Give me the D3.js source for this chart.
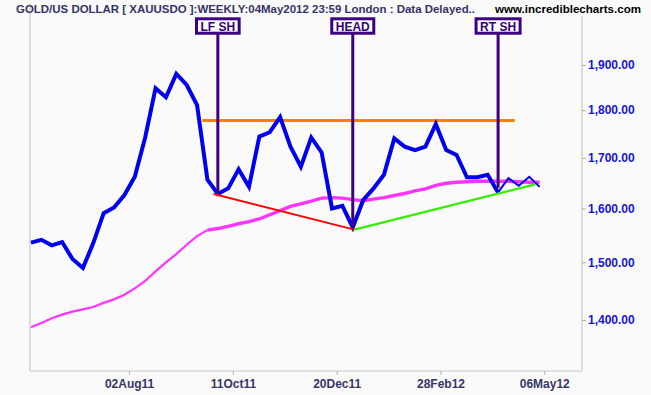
<!DOCTYPE html>
<html>
<head>
<meta charset="utf-8">
<script src="https://cdn.jsdelivr.net/npm/d3@7"></script>
<style>
  html, body { margin: 0; padding: 0; background: #fafafa; }
  svg { display: block; }
</style>
</head>
<body>
<div id="chart"></div>
<script>
// weekly closes, Gold / US Dollar
const closes = [
  1536, 1541, 1531, 1537, 1506, 1490, 1535, 1591, 1602, 1626,
  1662, 1742, 1848, 1828, 1880, 1855, 1811, 1656, 1628, 1639,
  1677, 1642, 1744, 1753, 1785, 1723, 1682, 1742, 1711, 1600,
  1605, 1564, 1616, 1639, 1666, 1740, 1723, 1716, 1723, 1770,
  1716, 1706, 1661, 1661, 1666, 1631, 1659, 1644, 1662, 1642
]
// moving average
const movAvg = [
  1388, 1395, 1403, 1409, 1414, 1418, 1422, 1429, 1435, 1443,
  1454, 1467, 1484, 1500, 1515, 1532, 1548, 1559, 1562, 1566,
  1571, 1575, 1580, 1588, 1596, 1604, 1609, 1614, 1620, 1621,
  1620, 1617, 1615, 1618, 1621, 1625, 1629, 1634, 1638, 1645,
  1649, 1651, 1652, 1653, 1653, 1653, 1653, 1652, 1651, 1651
]
const xTickIdx = [9.45, 19.45, 29.45, 39.45, 49.45]
const xTickLabels = ['02Aug11', '11Oct11', '20Dec11', '28Feb12', '06May12']
const yTicks = [1400, 1500, 1600, 1700, 1800, 1900]

// head & shoulders annotations
const markerLabels = ['LF SH', 'HEAD', 'RT SH']
const markerIdx = [18, 31, 45]
const markerEnd = [1628, 1562, 1640]
const neckline = [[16.5, 1778], [46.6, 1778]]
const leftTrend = [[17.6, 1628], [31.15, 1560]]
const rightTrend = [[31.15, 1560], [48.6, 1647]]

const width = 651, height = 395
const plot = { left: 30, right: 582, top: 4, bottom: 371 }

const svg = d3.select('#chart').append('svg')
  .attr('width', width)
  .attr('height', height)
  .style('background', '#fafafa')

const x = d3.scaleLinear().domain([0, 49]).range([31, 539.6])
const y = d3.scaleLog().domain([1317, 2044]).range([plot.bottom, plot.top])

// frame
const frame = svg.append('g').attr('stroke', '#c8c8c8').attr('stroke-width', 1.2)
frame.append('line').attr('x1', plot.left).attr('x2', plot.left).attr('y1', plot.top).attr('y2', plot.bottom)
frame.append('line').attr('x1', plot.right).attr('x2', plot.right).attr('y1', 16).attr('y2', plot.bottom)
frame.append('line').attr('x1', plot.left).attr('x2', plot.right).attr('y1', plot.bottom).attr('y2', plot.bottom)

// axes
const yAxis = svg.append('g')
  .attr('transform', `translate(${plot.right},0)`)
  .call(d3.axisRight(y).tickValues(yTicks).tickFormat(d3.format(',.2f')).tickSize(4).tickPadding(2))
yAxis.select('.domain').remove()
yAxis.selectAll('line').attr('stroke', '#b0b0b0')
yAxis.selectAll('text')
  .attr('fill', '#1414e0')
  .style('font', 'bold 12px "Liberation Sans", Arial, sans-serif')

const xAxis = svg.append('g')
  .attr('transform', `translate(0,${plot.bottom})`)
  .call(d3.axisBottom(x).tickValues(xTickIdx).tickFormat((d, i) => xTickLabels[i]).tickSize(4).tickPadding(4.5))
xAxis.select('.domain').remove()
xAxis.selectAll('line').attr('stroke', '#b0b0b0')
xAxis.selectAll('text')
  .attr('fill', '#363668')
  .style('font', 'bold 12px "Liberation Sans", Arial, sans-serif')

const line = d3.line().x(d => x(d[0])).y(d => y(d[1]))

// moving average (thin early part, thicker later)
const maPts = movAvg.map((v, i) => [i, v])
svg.append('path').attr('d', line(maPts.slice(0, 18)))
  .attr('fill', 'none').attr('stroke', '#ff33ff').attr('stroke-width', 2.2)
svg.append('path').attr('d', line(maPts.slice(17)))
  .attr('fill', 'none').attr('stroke', '#ff33ff').attr('stroke-width', 3.4)

// neckline
svg.append('path').attr('d', line(neckline))
  .attr('fill', 'none').attr('stroke', '#ff8000').attr('stroke-width', 3)

// price line
const pts = closes.map((v, i) => [i, v])
svg.append('path').attr('d', line(pts.slice(0, 46)))
  .attr('fill', 'none').attr('stroke', '#0000ee').attr('stroke-width', 4)
svg.append('path').attr('d', line(pts.slice(45)))
  .attr('fill', 'none').attr('stroke', '#0000ee').attr('stroke-width', 2)

// trend lines
svg.append('path').attr('d', line(leftTrend))
  .attr('fill', 'none').attr('stroke', '#ff0000').attr('stroke-width', 2)
svg.append('path').attr('d', line(rightTrend))
  .attr('fill', 'none').attr('stroke', '#33ee00').attr('stroke-width', 2.2)

// markers
const boxTop = 18.8, boxH = 14.4
const gMarks = svg.append('g')
markerLabels.forEach((label, i) => {
  const mx = x(markerIdx[i])
  gMarks.append('line')
    .attr('x1', mx).attr('x2', mx)
    .attr('y1', boxTop + boxH).attr('y2', y(markerEnd[i]))
    .attr('stroke', '#3c0080').attr('stroke-width', 3)
  const rect = gMarks.append('rect')
    .attr('y', boxTop).attr('height', boxH)
    .attr('fill', '#ffffff').attr('stroke', '#3c0080').attr('stroke-width', 3)
  const t = gMarks.append('text')
    .attr('x', mx).attr('y', boxTop + boxH - 2.6)
    .attr('text-anchor', 'middle')
    .attr('fill', '#330077')
    .style('font', 'bold 12px "Liberation Sans", Arial, sans-serif')
    .text(label)
  const w = t.node().getComputedTextLength() + 8
  rect.attr('x', mx - w / 2).attr('width', w)
})

// title texts
svg.append('text')
  .attr('x', 16).attr('y', 12.6)
  .attr('fill', '#333366')
  .attr('textLength', 459).attr('lengthAdjust', 'spacingAndGlyphs')
  .style('font', 'bold 11px "Liberation Sans", Arial, sans-serif')
  .text('GOLD/US DOLLAR [ XAUUSDO ]:WEEKLY:04May2012 23:59 London : Data Delayed..')

svg.append('text')
  .attr('x', 495).attr('y', 12.6)
  .attr('fill', '#000000')
  .attr('textLength', 146).attr('lengthAdjust', 'spacingAndGlyphs')
  .style('font', 'bold 11.5px "Liberation Sans", Arial, sans-serif')
  .text('www.incrediblecharts.com')
</script>
</body>
</html>
